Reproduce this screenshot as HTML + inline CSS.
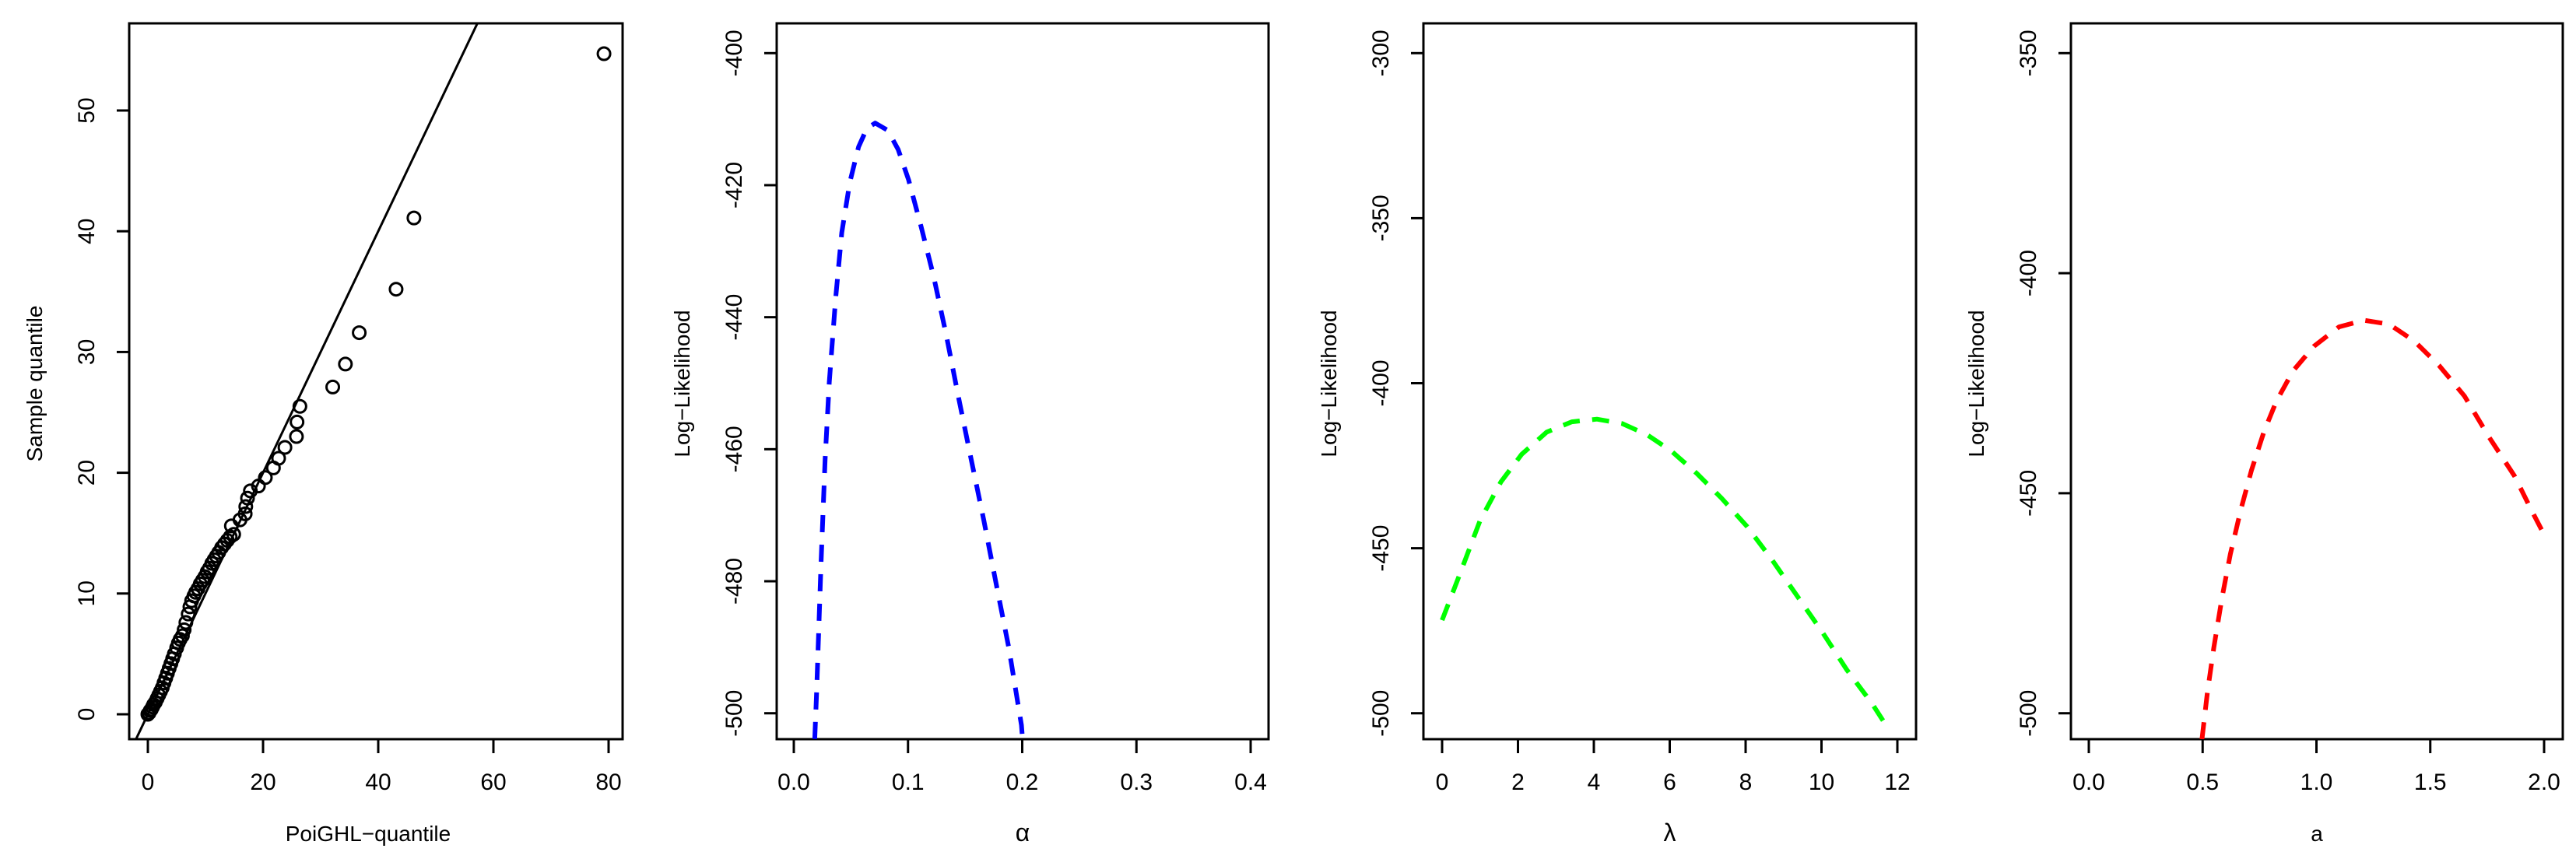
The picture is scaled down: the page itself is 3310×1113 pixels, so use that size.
<!DOCTYPE html>
<html><head><meta charset="utf-8"><style>
html,body{margin:0;padding:0;background:#fff;}
svg{display:block;}
text{font-family:"Liberation Sans",sans-serif;fill:#000;}
</style></head><body>
<svg id="fig" width="3310" height="1113" viewBox="0 0 3310 1113" xmlns="http://www.w3.org/2000/svg"></svg>
<script>
// Panel 1: QQ plot
const qqTheoretical = [0,0.2,0.4,0.6,0.8,1.0,1.3,1.6,1.9,2.2,2.5,2.8,3.1,3.4,3.7,4.0,4.3,4.6,5.0,5.3,5.6,6.0,6.3,6.6,7.0,7.3,7.6,8.0,8.3,8.7,9.1,9.5,9.9,10.3,10.7,11.1,11.5,11.9,12.3,12.8,13.3,13.8,14.3,14.9,14.5,16.0,16.9,17.0,17.3,17.8,19.2,20.4,21.8,22.7,23.8,25.8,25.9,26.4,32.1,34.3,36.7,43.1,46.2,79.2];
const qqSample = [0,0.1,0.3,0.4,0.6,0.8,1.0,1.3,1.6,1.9,2.2,2.6,3.0,3.4,3.8,4.2,4.6,5.0,5.5,5.9,6.2,6.5,7.0,7.6,8.3,8.9,9.4,9.8,10.1,10.4,10.8,11.1,11.4,11.8,12.1,12.5,12.8,13.1,13.4,13.8,14.1,14.4,14.7,14.9,15.6,16.1,16.6,17.2,17.9,18.5,18.9,19.6,20.4,21.2,22.1,23.0,24.2,25.5,27.1,29.0,31.6,35.2,41.1,54.7];
const qqXTicks = [0,20,40,60,80];
const qqYTicks = [0,10,20,30,40,50];
// Panel 2: alpha profile
const alphaX = [0.0183,0.020,0.0238,0.0274,0.0311,0.0366,0.0420,0.049,0.0567,0.064,0.0713,0.0823,0.0914,0.1005,0.1115,0.1225,0.1335,0.1444,0.1554,0.1664,0.1773,0.1883,0.1993,0.2003];
const alphaLL = [-503.9,-496.8,-477.5,-461.6,-449.8,-437.2,-427.2,-419.6,-414.2,-411.4,-410.6,-411.7,-414.6,-419.2,-426.3,-433.9,-442.7,-452.3,-461.6,-470.8,-480.5,-490.1,-501.8,-503.9];
const alphaXTicks = ["0.0","0.1","0.2","0.3","0.4"];
const alphaYTicks = [-400,-420,-440,-460,-480,-500];
// Panel 3: lambda profile
const lambdaX = [0,0.45,1.0,1.55,2.1,2.76,3.42,4.08,4.74,5.4,6.05,6.71,7.37,8.03,8.69,9.35,10.01,10.67,11.33,11.66];
const lambdaLL = [-471.8,-458.4,-441.6,-429.9,-421.5,-414.8,-411.7,-410.9,-412.2,-415.6,-420.6,-427.3,-434.9,-443.3,-453.4,-464.3,-475.2,-486.9,-497.0,-502.9];
const lambdaXTicks = [0,2,4,6,8,10,12];
const lambdaYTicks = [-300,-350,-400,-450,-500];
// Panel 4: a profile
const aX = [0.497,0.521,0.549,0.585,0.622,0.668,0.714,0.769,0.824,0.897,0.989,1.099,1.209,1.319,1.429,1.539,1.650,1.760,1.870,1.943,2.0];
const aLL = [-505.9,-495.2,-485.1,-473.8,-463.8,-453.7,-444.9,-436.1,-429.1,-422.2,-416.6,-412.2,-410.7,-411.6,-415.4,-421.0,-427.9,-437.4,-446.1,-453.7,-459.4];
const aXTicks = ["0.0","0.5","1.0","1.5","2.0"];
const aYTicks = [-350,-400,-450,-500];

const NS="http://www.w3.org/2000/svg";
const svg=document.getElementById('fig');
function mk(tag,attrs,parent){const e=document.createElementNS(NS,tag);for(const k in attrs)e.setAttribute(k,attrs[k]);(parent||svg).appendChild(e);return e;}
const TOP=30,BOT=950;

function panel(id,left,right,x0px,x1px,xmin,xmax,y0px,y1px,ymin,ymax,xticks,yticks,xtitle,ytitle,italic){
  const g=mk('g',{});
  
  
  const sx=v=>x0px+(v-xmin)*(x1px-x0px)/(xmax-xmin);
  const sy=v=>y0px+(v-ymin)*(y1px-y0px)/(ymax-ymin);
  const clip=mk('clipPath',{id:id+'-clip'},g);
  mk('rect',{x:left,y:TOP,width:right-left,height:BOT-TOP},clip);
  const box=mk('rect',{x:left,y:TOP,width:right-left,height:BOT-TOP,fill:'none',stroke:'#000','stroke-width':3},g);
  
  
  const xa=mk('g',{},g);
  
  
  xticks.forEach(t=>{const v=parseFloat(t);const x=sx(v);
    mk('line',{x1:x,x2:x,y1:BOT,y2:BOT+18,stroke:'#000','stroke-width':3},xa);
    const tx=mk('text',{x:x,y:1015,'font-size':30,'text-anchor':'middle'},xa);tx.textContent=t;
    
    
  });
  const ya=mk('g',{},g);
  
  
  yticks.forEach(t=>{const y=sy(t);
    mk('line',{x1:left,x2:left-16,y1:y,y2:y,stroke:'#000','stroke-width':3},ya);
    const tx=mk('text',{x:0,y:0,'font-size':30,'text-anchor':'middle',transform:`translate(${left-45},${y}) rotate(-90)`},ya);tx.textContent=t;
    
    
  });
  const xt=mk('text',{x:(left+right)/2+(left<200?-10:0),y:1081,'font-size':italic?32:28,'text-anchor':'middle','font-family':italic?'"Liberation Serif",serif':'"Liberation Sans",sans-serif'},g);xt.textContent=xtitle;
  
  
  const yt=mk('text',{x:0,y:0,'font-size':28,'text-anchor':'middle',transform:`translate(${left-112},${493}) rotate(-90)`},g);yt.textContent=ytitle;
  
  
  return {g,sx,sy,clipId:id+'-clip'};
}

// Panel 1
const p1=panel('qq',166,800,190,782,0,80,918,142,0,50,qqXTicks.map(String),qqYTicks,'PoiGHL−quantile','Sample quantile',false);
const ref=mk('line',{x1:p1.sx(-10),y1:p1.sy(-10),x2:p1.sx(80),y2:p1.sy(80),stroke:'#000','stroke-width':3,'clip-path':`url(#${p1.clipId})`},p1.g);


qqTheoretical.forEach((q,i)=>{
  const c=mk('circle',{cx:p1.sx(q),cy:p1.sy(qqSample[i]),r:8,fill:'none',stroke:'#000','stroke-width':3},p1.g);
  
  
});

function curve(p,xs,ys,color,name){
  const pts=xs.map((x,i)=>p.sx(x).toFixed(1)+','+p.sy(ys[i]).toFixed(1)).join(' ');
  const l=mk('polyline',{points:pts,fill:'none',stroke:color,'stroke-width':6,'stroke-dasharray':'22 16','stroke-linejoin':'round','clip-path':`url(#${p.clipId})`},p.g);
  
  
}
const p2=panel('alpha',998,1630,1020,1607,0,0.4,68.3,916.7,-400,-500,alphaXTicks,alphaYTicks,'α','Log−Likelihood',true);
curve(p2,alphaX,alphaLL,'#0000ff','alpha-likelihood-curve');
const p3=panel('lambda',1829,2462,1853,2438,0,12,68.3,916.7,-300,-500,lambdaXTicks.map(String),lambdaYTicks,'λ','Log−Likelihood',true);
curve(p3,lambdaX,lambdaLL,'#00ff00','lambda-likelihood-curve');
const p4=panel('a',2661,3293,2684,3269,0,2,68.3,916.7,-350,-500,aXTicks,aYTicks,'a','Log−Likelihood',false);
curve(p4,aX,aLL,'#ff0000','a-likelihood-curve');
</script>
</body></html>
